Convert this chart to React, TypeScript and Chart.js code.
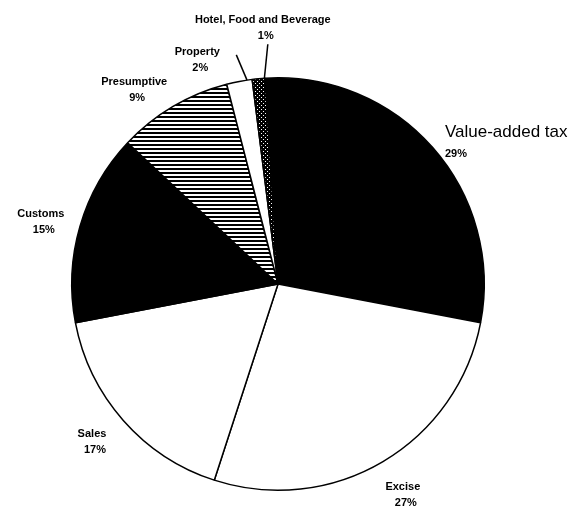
import React, { useEffect, useRef } from "react";
import { Chart, registerables } from "chart.js";

Chart.register(...registerables);

const categories = [
  "Value-added tax",
  "Excise",
  "Sales",
  "Customs",
  "Presumptive",
  "Property",
  "Hotel, Food and Beverage",
];
const shares = [29, 27, 17, 15, 9, 2, 1];
const percentLabels = ["29%", "27%", "17%", "15%", "9%", "2%", "1%"];

// label placement: radial distance beyond pie edge, angular shift (deg), alignment,
// leader line start offset and target fraction along the slice edge
const labelLayout = [
  { dist: 13, shift: 1, align: "left", leader: null, target: 0.5, big: true },
  { dist: 39, shift: 0, align: "center", leader: null, target: 0.5, big: false },
  { dist: 38, shift: 1, align: "center", leader: null, target: 0.5, big: false },
  { dist: 39, shift: -1.5, align: "center", leader: null, target: 0.5, big: false },
  { dist: 35, shift: -6, align: "center", leader: null, target: 0.5, big: false },
  { dist: 32, shift: -9, align: "center", leader: [39, -5], target: 0.8, big: false },
  { dist: 50, shift: 2, align: "center", leader: [5, 16], target: 0.95, big: false },
];

function makePattern(kind: string): CanvasPattern | string {
  const c = document.createElement("canvas");
  c.width = 4;
  c.height = 4;
  const g = c.getContext("2d");
  if (!g) return "#777";
  g.fillStyle = "#fff";
  g.fillRect(0, 0, 4, 4);
  g.fillStyle = "#000";
  if (kind === "hlines") {
    g.fillRect(0, 0, 4, 2);
  } else {
    g.fillRect(0, 0, 4, 4);
    g.fillStyle = "#fff";
    g.fillRect(1, 1, 1, 1);
    g.fillRect(3, 3, 1, 1);
  }
  const p = g.createPattern(c, "repeat");
  return p || "#777";
}

const labelPlugin = {
  id: "outerLabels",
  afterDraw(chart: any) {
    const ctx = chart.ctx as CanvasRenderingContext2D;
    const meta = chart.getDatasetMeta(0);
    ctx.save();
    ctx.fillStyle = "#000";
    ctx.strokeStyle = "#000";
    meta.data.forEach((arc: any, i: number) => {
      const { x, y, startAngle, endAngle, outerRadius } = arc.getProps(
        ["x", "y", "startAngle", "endAngle", "outerRadius"],
        true
      );
      const lay = labelLayout[i];
      const mid = (startAngle + endAngle) / 2;
      const a = mid + (lay.shift * Math.PI) / 180;
      const r = outerRadius + lay.dist;
      const lx = x + Math.cos(a) * r;
      const ly = y + Math.sin(a) * r;
      ctx.textAlign = lay.align as CanvasTextAlign;
      ctx.textBaseline = "middle";
      if (lay.big) {
        ctx.font = "17px 'Liberation Sans', Arial, sans-serif";
        ctx.fillText(categories[i], lx, ly - 10);
        ctx.font = "bold 11px 'Liberation Sans', Arial, sans-serif";
        ctx.fillText(percentLabels[i], lx, ly + 12);
      } else {
        ctx.font = "bold 11px 'Liberation Sans', Arial, sans-serif";
        ctx.fillText(categories[i], lx, ly - 8);
        ctx.fillText(percentLabels[i], lx + 3, ly + 8);
      }
      if (lay.leader) {
        const ta = startAngle + (endAngle - startAngle) * lay.target;
        const ex = x + Math.cos(ta) * outerRadius;
        const ey = y + Math.sin(ta) * outerRadius;
        ctx.lineWidth = 1.5;
        ctx.beginPath();
        ctx.moveTo(lx + lay.leader[0], ly + lay.leader[1]);
        ctx.lineTo(ex, ey);
        ctx.stroke();
      }
    });
    ctx.restore();
  },
};

export default function App() {
  const ref = useRef<HTMLCanvasElement | null>(null);
  useEffect(() => {
    document.body.style.margin = "0";
    if (!ref.current) return;
    const colors = [
      "#000000",
      "#ffffff",
      "#ffffff",
      "#000000",
      makePattern("hlines"),
      "#ffffff",
      makePattern("dots"),
    ];
    const chart = new Chart(ref.current, {
      type: "pie",
      data: {
        labels: categories,
        datasets: [
          {
            data: shares,
            backgroundColor: colors as any,
            borderColor: "#000",
            borderWidth: 1.5,
          },
        ],
      },
      options: {
        animation: false,
        responsive: false,
        rotation: -3.6,
        layout: { padding: { left: 71, right: 93, top: 77, bottom: 16 } },
        plugins: {
          legend: { display: false },
          tooltip: { enabled: false },
        },
      },
      plugins: [labelPlugin],
    });
    return () => chart.destroy();
  }, []);
  return (
    <div style={{ width: 578, height: 507, background: "#fff" }}>
      <canvas ref={ref} width={578} height={507} />
    </div>
  );
}
